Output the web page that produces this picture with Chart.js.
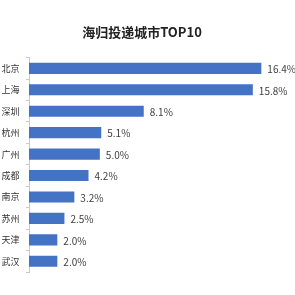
<!DOCTYPE html>
<html>
<head>
<meta charset="utf-8">
<script src="https://cdn.jsdelivr.net/npm/chart.js@4"></script>
<style>
    html, body {margin: 0; padding: 0; background: #fff;}
    #wrap {width: 295px; height: 295px;}
</style>
</head>
<body>
<div id="wrap"><canvas id="cityChart" width="295" height="295"></canvas></div>
<script>
// 城市 / 占比(%)
const cities = ['北京', '上海', '深圳', '杭州', '广州', '成都', '南京', '苏州', '天津', '武汉'];
const shares = [16.4, 15.8, 8.1, 5.1, 5.0, 4.2, 3.2, 2.5, 2.0, 2.0];
const chartTitle = '海归投递城市TOP10';

const FONT = '"Noto Sans CJK SC", "Microsoft YaHei", sans-serif';

// 막대 끝에 값 표시
const valueLabels = {
    id: 'valueLabels',
    afterDatasetsDraw(chart) {
        const ctx = chart.ctx;
        const meta = chart.getDatasetMeta(0);
        ctx.save();
        ctx.font = '10px ' + FONT;
        ctx.fillStyle = '#404040';
        ctx.textAlign = 'left';
        ctx.textBaseline = 'middle';
        meta.data.forEach((bar, i) => {
            ctx.fillText(shares[i].toFixed(1) + '%', bar.x + 6, bar.y + 1);
        });
        ctx.restore();
    }
};

document.addEventListener("DOMContentLoaded", () => {
    const ctx = document.getElementById('cityChart').getContext('2d');
    new Chart(ctx, {
        type: 'bar',
        data: {
            labels: cities,
            datasets: [{
                data: shares,
                backgroundColor: '#4472C4',
                borderWidth: 0,
                categoryPercentage: 1,
                barPercentage: 0.52
            }]
        },
        options: {
            indexAxis: 'y',
            responsive: false,
            animation: false,
            layout: {padding: {left: 0, right: 11, top: 0, bottom: 23}},
            plugins: {
                legend: {display: false},
                tooltip: {enabled: false},
                title: {
                    display: true,
                    text: chartTitle,
                    color: '#222',
                    font: {family: FONT, size: 13, weight: 'bold', lineHeight: 1.2},
                    padding: {top: 24, bottom: 18}
                }
            },
            scales: {
                x: {display: false, min: 0, max: 18},
                y: {
                    afterFit(scale) { scale.width = 29; },
                    border: {display: true, color: '#c8c8c8', width: 1},
                    grid: {
                        display: true,
                        offset: true,
                        drawOnChartArea: false,
                        drawTicks: true,
                        tickLength: 3,
                        color: '#c8c8c8'
                    },
                    ticks: {
                        color: '#333',
                        padding: 6.5,
                        font: {family: FONT, size: 9}
                    }
                }
            }
        },
        plugins: [valueLabels]
    });
});
</script>
</body>
</html>
